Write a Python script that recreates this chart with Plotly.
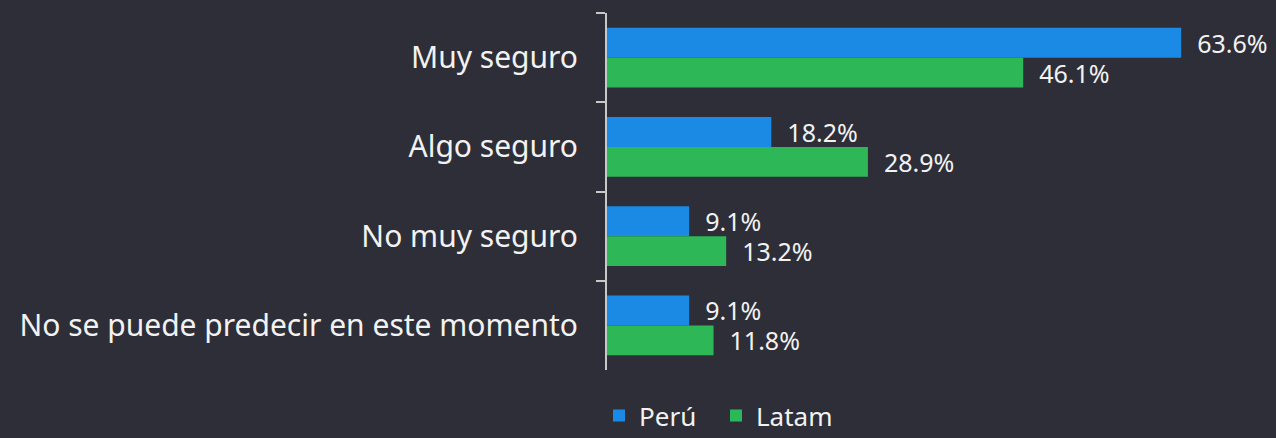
import plotly.graph_objects as go

categories = ["Muy seguro", "Algo seguro", "No muy seguro", "No se puede predecir en este momento"]
peru = [63.6, 18.2, 9.1, 9.1]
latam = [46.1, 28.9, 13.2, 11.8]
series_names = ["Perú", "Latam"]
colors = ["#1a8ae5", "#2db757"]

BG = "#2e2e38"
FONT = "Noto Sans"

fig = go.Figure()
for name, vals, col in zip(series_names, [peru, latam], colors):
    fig.add_trace(go.Bar(
        y=categories, x=vals, orientation="h", name=name,
        marker=dict(color=col, line=dict(width=0)),
        text=[f"\u00a0\u00a0{v:.1f}%" for v in vals],
        textposition="outside", cliponaxis=False, constraintext="none",
        textfont=dict(color="#f2f2f2", size=25, family=FONT),
    ))

fig.update_layout(
    width=1276, height=438,
    paper_bgcolor=BG, plot_bgcolor=BG,
    barmode="group", bargap=0.33, bargroupgap=0,
    margin=dict(l=607, r=37, t=13, b=68, autoexpand=False),
    font=dict(family=FONT, color="#f2f2f2"),
    showlegend=True,
    legend=dict(orientation="h", x=0.0, xanchor="left", y=-0.062, yanchor="top",
                font=dict(size=26, color="#f2f2f2", family=FONT),
                bgcolor="rgba(0,0,0,0)", entrywidth=72, tracegroupgap=0),
    xaxis=dict(range=[0, 70], visible=False, showgrid=False, zeroline=False),
    yaxis=dict(autorange="reversed", showgrid=False, zeroline=False,
               showline=True, linecolor="#c8c8c8", linewidth=2,
               ticks="outside", ticklen=9, tickwidth=2, tickcolor="#c8c8c8",
               tickson="boundaries", ticklabelstandoff=21,
               tickfont=dict(size=30, color="#f2f2f2", family=FONT)),
)
fig.update_layout(legend_x=(609 - 607 - 10) / 632)

fig.write_html("out.html", config={"displayModeBar": False},
               post_script="document.body.style.margin='0';document.body.style.background='%s';" % BG)
